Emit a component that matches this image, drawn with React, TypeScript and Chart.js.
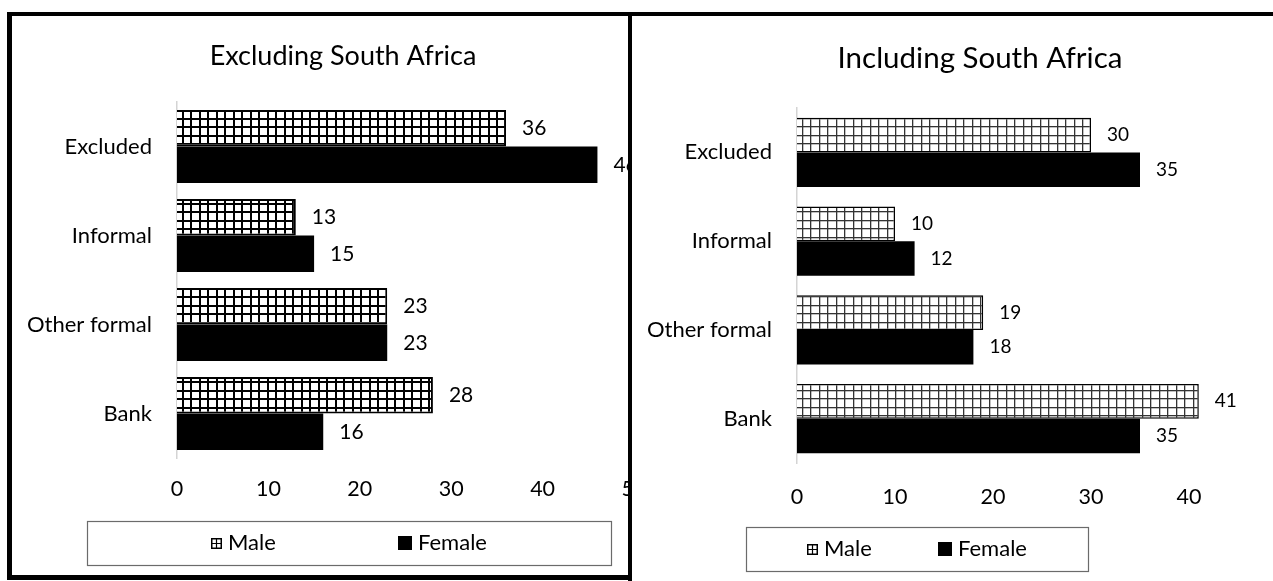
import React, { useEffect, useRef } from "react";
import { Chart, registerables } from "chart.js";

Chart.register(...registerables);

// ---- data ----
const categories = ["Excluded", "Informal", "Other formal", "Bank"];
const seriesNames = ["Male", "Female"];
const maleExcludingSA = [36, 13, 23, 28];
const femaleExcludingSA = [46, 15, 23, 16];
const maleIncludingSA = [30, 10, 19, 41];
const femaleIncludingSA = [35, 12, 18, 35];
const axisMin = 0;
const axisMax = 50;
const axisStep = 10;
const titleExcluding = "Excluding South Africa";
const titleIncluding = "Including South Africa";

const FONT = "Lato, 'Noto Sans', sans-serif";

// Large-grid hatch used for the male bars
function makeGridPattern(lineW: number, lineColor: string): CanvasPattern {
  const tile = document.createElement("canvas");
  tile.width = 17;
  tile.height = 17;
  const g = tile.getContext("2d")!;
  g.fillStyle = "#ffffff";
  g.fillRect(0, 0, 17, 17);
  g.fillStyle = lineColor;
  for (const p of [0, 8]) {
    g.fillRect(p, 0, lineW, 17);
    g.fillRect(0, p, 17, lineW);
  }
  return g.createPattern(tile, "repeat")!;
}

// Chart heading, centred at a fixed point above the plot
const panelTitle = {
  id: "panelTitle",
  afterDraw(chart: any, _args: any, opts: any) {
    const { ctx } = chart;
    ctx.save();
    ctx.font = `${opts.size}px ${FONT}`;
    ctx.fillStyle = "#000";
    ctx.textAlign = "center";
    ctx.textBaseline = "alphabetic";
    ctx.fillText(opts.text, opts.x, opts.y);
    ctx.restore();
  },
};

// Value written to the right of each bar
const valueLabels = {
  id: "valueLabels",
  afterDatasetsDraw(chart: any, _args: any, opts: any) {
    const { ctx } = chart;
    ctx.save();
    ctx.font = `${opts.size}px ${FONT}`;
    ctx.fillStyle = "#000";
    ctx.textBaseline = "middle";
    ctx.textAlign = "left";
    chart.data.datasets.forEach((ds: any, di: number) => {
      chart.getDatasetMeta(di).data.forEach((el: any, i: number) => {
        ctx.fillText(String(ds.data[i]), el.x + opts.offset, el.y);
      });
    });
    ctx.restore();
  },
};

// Boxed legend under the axis
const framedLegend = {
  id: "framedLegend",
  afterDraw(chart: any, _args: any, opts: any) {
    const { ctx } = chart;
    const { left, right, top, bottom, gap, iconGap, size, icons } = opts;
    ctx.save();
    ctx.strokeStyle = "#6b6b6b";
    ctx.lineWidth = 1.2;
    ctx.strokeRect(left + 0.5, top + 0.5, right - left, bottom - top);
    ctx.font = `${size}px ${FONT}`;
    const items = chart.data.datasets.map((ds: any, i: number) => {
      const icon = icons[i];
      return { ds, icon, w: icon.size + iconGap + ctx.measureText(ds.label).width };
    });
    const total = items.reduce((s: number, it: any) => s + it.w, 0) + gap * (items.length - 1);
    let x = (left + right) / 2 - total / 2;
    const cy = (top + bottom) / 2;
    items.forEach((it: any) => {
      const s = it.icon.size;
      const y0 = Math.round(cy - s / 2);
      const x0 = Math.round(x);
      if (it.icon.kind === "grid") {
        ctx.fillStyle = "#fff";
        ctx.fillRect(x0, y0, s, s);
        ctx.strokeStyle = "#000";
        ctx.lineWidth = 1.5;
        ctx.strokeRect(x0 + 0.75, y0 + 0.75, s - 1.5, s - 1.5);
        ctx.beginPath();
        ctx.moveTo(x0 + s / 2, y0);
        ctx.lineTo(x0 + s / 2, y0 + s);
        ctx.moveTo(x0, y0 + s / 2);
        ctx.lineTo(x0 + s, y0 + s / 2);
        ctx.lineWidth = 1.2;
        ctx.stroke();
      } else {
        ctx.fillStyle = "#000";
        ctx.fillRect(x0, y0, s, s);
      }
      ctx.fillStyle = "#000";
      ctx.textBaseline = "middle";
      ctx.textAlign = "left";
      ctx.fillText(it.ds.label, x0 + s + iconGap, cy);
      x += it.w + gap;
    });
    ctx.restore();
  },
};

type PanelSpec = {
  title: any;
  plotTop: number;
  male: number[];
  female: number[];
  pattern: CanvasPattern;
  maleBorder: number;
  catPct: number;
  padRight: number;
  yAxisWidth: number;
  tickPad: number;
  valueSize: number;
  legend: any;
};

function buildConfig(p: PanelSpec): any {
  return {
    type: "bar",
    data: {
      labels: categories,
      datasets: [
        {
          label: seriesNames[0],
          data: p.male,
          backgroundColor: p.pattern,
          borderColor: "#000",
          borderWidth: p.maleBorder,
          categoryPercentage: p.catPct,
          barPercentage: 1,
        },
        {
          label: seriesNames[1],
          data: p.female,
          backgroundColor: "#000",
          borderWidth: 0,
          categoryPercentage: p.catPct,
          barPercentage: 1,
        },
      ],
    },
    options: {
      indexAxis: "y",
      responsive: false,
      animation: false,
      layout: { padding: { left: 0, right: p.padRight, top: p.plotTop, bottom: 68 } },
      plugins: {
        legend: { display: false },
        tooltip: { enabled: false },
        title: { display: false },
        panelTitle: p.title,
        valueLabels: { size: p.valueSize, offset: 16 },
        framedLegend: p.legend,
      },
      scales: {
        x: {
          type: "linear",
          min: axisMin,
          max: axisMax,
          ticks: {
            stepSize: axisStep,
            color: "#000",
            font: { family: FONT, size: 21.5 },
            padding: p.tickPad,
          },
          grid: { display: false, drawTicks: false },
          border: { display: false },
          afterFit: (s: any) => {
            s.height = 50;
          },
        },
        y: {
          ticks: {
            color: "#000",
            font: { family: FONT, size: 22 },
            padding: 25,
            autoSkip: false,
          },
          grid: { display: false, drawTicks: false },
          border: { display: true, color: "#d4d4d4", width: 1.5 },
          afterFit: (s: any) => {
            s.width = p.yAxisWidth;
          },
        },
      },
    },
    plugins: [panelTitle, valueLabels, framedLegend],
  };
}

function BarPanel({ spec, width, height }: { spec: () => PanelSpec; width: number; height: number }) {
  const ref = useRef<HTMLCanvasElement | null>(null);
  useEffect(() => {
    if (!ref.current) return;
    const chart = new Chart(ref.current, buildConfig(spec()));
    return () => chart.destroy();
  }, []);
  return <canvas ref={ref} width={width} height={height} style={{ display: "block" }} />;
}

const leftSpec = (): PanelSpec => ({
  title: { text: titleExcluding, size: 27, x: 331, y: 49 },
  plotTop: 86,
  male: maleExcludingSA,
  female: femaleExcludingSA,
  pattern: makeGridPattern(2, "#000"),
  maleBorder: 2,
  catPct: 0.82,
  padRight: 38,
  yAxisWidth: 165,
  tickPad: 18,
  valueSize: 21,
  legend: {
    left: 75,
    right: 599,
    top: 505,
    bottom: 549,
    gap: 122,
    iconGap: 6,
    size: 22,
    icons: [
      { kind: "grid", size: 11 },
      { kind: "solid", size: 14 },
    ],
  },
});

const rightSpec = (): PanelSpec => ({
  title: { text: titleIncluding, size: 29.5, x: 348, y: 52 },
  plotTop: 92,
  male: maleIncludingSA,
  female: femaleIncludingSA,
  pattern: makeGridPattern(1.3, "#333333"),
  maleBorder: 1.5,
  catPct: 0.78,
  padRight: 45,
  yAxisWidth: 165,
  tickPad: 21,
  valueSize: 19,
  legend: {
    left: 114,
    right: 456,
    top: 511,
    bottom: 555,
    gap: 66,
    iconGap: 6,
    size: 22,
    icons: [
      { kind: "grid", size: 11 },
      { kind: "solid", size: 14 },
    ],
  },
});

export default function App() {
  return (
    <div
      style={{
        position: "fixed",
        left: 0,
        top: 0,
        width: 1273,
        height: 581,
        overflow: "hidden",
        background: "#fff",
      }}
    >
      <div
        style={{
          position: "absolute",
          left: 7,
          top: 12,
          width: 626,
          height: 568,
          boxSizing: "border-box",
          borderStyle: "solid",
          borderColor: "#000",
          borderWidth: "4px 4px 5px 5px",
        }}
      />
      <div style={{ position: "absolute", left: 12, top: 16, zIndex: 1 }}>
        <BarPanel spec={leftSpec} width={660} height={560} />
      </div>
      <div
        style={{
          position: "absolute",
          left: 628,
          top: 12,
          width: 720,
          height: 640,
          boxSizing: "border-box",
          border: "4px solid #000",
          background: "#fff",
          overflow: "hidden",
          zIndex: 2,
        }}
      >
        <BarPanel spec={rightSpec} width={700} height={565} />
      </div>
    </div>
  );
}
